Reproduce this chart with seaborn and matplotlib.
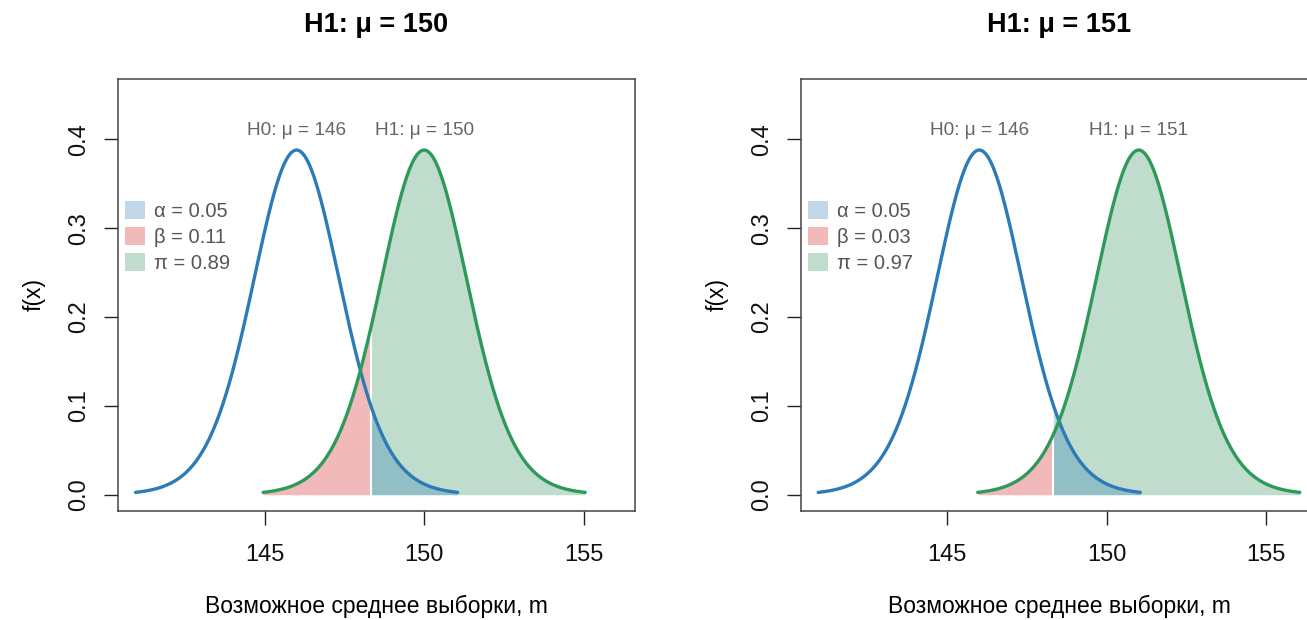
import numpy as np
import matplotlib
matplotlib.use("Agg")
import matplotlib.pyplot as plt
import seaborn as sns
from matplotlib.patches import Patch

sns.set_style("ticks")
plt.rcParams['font.family'] = ['Liberation Sans', 'DejaVu Sans']
plt.rcParams['text.color'] = 'black'
plt.rcParams['axes.labelcolor'] = 'black'

# values
mu0 = 146
mu1_values = [150, 151]
se = 1.4            # spread of the sampling distribution
peak = 0.388        # curve height at the mean
tail_df = 15        # curves have slightly heavy tails
half_span = 5.05    # curves drawn over mu +/- half_span
cutoff = 148.32     # critical value of the one-sided test
alpha_labels = ['α = 0.05', 'α = 0.05']
beta_labels = ['β = 0.11', 'β = 0.03']
power_labels = ['π = 0.89', 'π = 0.97']
titles = ['H1: μ = 150', 'H1: μ = 151']
xticks = [145, 150, 155]
yticks = [0.0, 0.1, 0.2, 0.3, 0.4]

blue = '#2C7BB6'
red = '#D7191C'
green = '#2E8B57'
green_line = '#2E9A5A'
fill_alpha = 0.3


def curve(x, mu):
    z = (x - mu) / se
    return peak * (1 + z ** 2 / tail_df) ** (-(tail_df + 1) / 2)


fig = plt.figure(figsize=(13.07, 6.2), dpi=100)
ax_w, ax_h = 516.6 / 1307, 431.7 / 620
ax_b = 1 - 510.7 / 620
axes = [fig.add_axes([118 / 1307, ax_b, ax_w, ax_h]),
        fig.add_axes([800.7 / 1307, ax_b, ax_w, ax_h])]

for i, ax in enumerate(axes):
    mu1 = mu1_values[i]
    x0 = np.linspace(mu0 - half_span, mu0 + half_span, 400)
    x1 = np.linspace(mu1 - half_span, mu1 + half_span, 400)
    y0 = curve(x0, mu0)
    y1 = curve(x1, mu1)

    # power region under H1, beta region, alpha region under H0
    m_pow = x1 >= cutoff
    m_beta = x1 <= cutoff
    m_alpha = x0 >= cutoff
    xp = np.concatenate([[cutoff], x1[m_pow]])
    xb = np.concatenate([x1[m_beta], [cutoff]])
    xa = np.concatenate([[cutoff], x0[m_alpha]])
    ax.fill_between(xp, 0, curve(xp, mu1), color=green, alpha=fill_alpha, lw=0)
    ax.fill_between(xb, 0, curve(xb, mu1), color=red, alpha=fill_alpha, lw=0)
    ax.fill_between(xa, 0, curve(xa, mu0), color=blue, alpha=fill_alpha, lw=0)
    ax.vlines(cutoff, 0, curve(cutoff, mu1), color='white', lw=1.5)

    sns.lineplot(x=x0, y=y0, ax=ax, color=blue, lw=2.4)
    sns.lineplot(x=x1, y=y1, ax=ax, color=green_line, lw=2.4)

    ax.text(mu0, 0.41, f'H0: μ = {mu0}', ha='center', va='center',
            fontsize=13.7, color='#666666')
    ax.text(mu1, 0.41, f'H1: μ = {mu1}', ha='center', va='center',
            fontsize=13.7, color='#666666')

    handles = [Patch(facecolor=blue, alpha=fill_alpha, lw=0),
               Patch(facecolor=red, alpha=fill_alpha, lw=0),
               Patch(facecolor=green, alpha=fill_alpha, lw=0)]
    leg = ax.legend(handles, [alpha_labels[i], beta_labels[i], power_labels[i]],
                    loc='upper left', bbox_to_anchor=(0.0136, 0.7167),
                    frameon=False, fontsize=14.5, handlelength=1.0,
                    handleheight=1.0, handletextpad=0.45, labelspacing=0.3,
                    borderpad=0, borderaxespad=0)
    for t in leg.get_texts():
        t.set_color('#555555')

    ax.set_xlim(140.4, 156.6)
    ax.set_ylim(-0.018, 0.468)
    ax.set_xticks(xticks)
    ax.set_yticks(yticks)
    ax.set_yticklabels([f'{v:.1f}' for v in yticks], rotation=90, va='center')
    ax.tick_params(axis='both', length=10, width=1, labelsize=17,
                   color='#222222', labelcolor='#111111')
    ax.tick_params(axis='x', pad=14)
    ax.tick_params(axis='y', pad=10)
    for s in ax.spines.values():
        s.set_visible(True)
        s.set_color('#444444')
        s.set_linewidth(1.1)
    ax.set_xlabel('Возможное среднее выборки, m', fontsize=16.5, labelpad=21)
    ax.set_ylabel('f(x)', fontsize=16.5, labelpad=16)
    ax.set_title(titles[i], fontsize=19.5, fontweight='bold', pad=34)

fig.savefig('out.png', dpi=100)
